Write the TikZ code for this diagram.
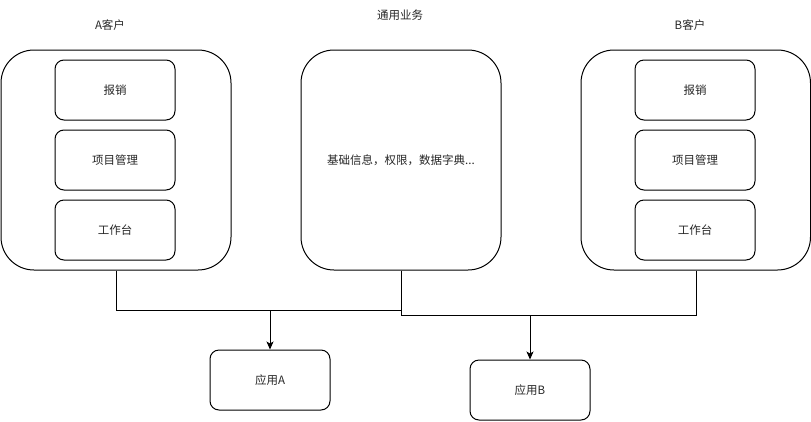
\documentclass[tikz,border=0pt]{standalone}
\usepackage{fontspec}
\setmainfont{Noto Sans CJK SC}
\usetikzlibrary{arrows.meta}
\begin{document}
\begin{tikzpicture}[x=1pt,y=-1pt,
  bigbox/.style={draw=black,line width=1pt,rounded corners=33pt,minimum height=220pt,inner sep=0pt},
  smallbox/.style={draw=black,line width=1pt,rounded corners=9pt,minimum width=120pt,minimum height=60pt,inner sep=0pt,font=\fontsize{11.5}{13}\selectfont,text=black!85},
  lbl/.style={font=\fontsize{11.5}{13}\selectfont,text=black!85},
  conn/.style={draw=black,line width=1pt},
  arr/.style={conn,-{Stealth[length=8pt,width=7pt,inset=2pt]}}]
\useasboundingbox (0,0) rectangle (811,421);
% containers
\node[bigbox,minimum width=230pt] (A) at (116,160) {};
\node[bigbox,minimum width=200pt,lbl] (G) at (401,160) {基础信息，权限，数据字典...};
\node[bigbox,minimum width=229.5pt] (B) at (695.75,160) {};
% titles
\node[lbl] (tA) at (110,25) {A客户};
\node[lbl] (tG) at (400,15) {通用业务};
\node[lbl] (tB) at (690,25) {B客户};
% inner boxes A
\node[smallbox] (a1) at (115,90) {报销};
\node[smallbox] (a2) at (115,160) {项目管理};
\node[smallbox] (a3) at (115,230) {工作台};
% inner boxes B
\node[smallbox] (b1) at (695,90) {报销};
\node[smallbox] (b2) at (695,160) {项目管理};
\node[smallbox] (b3) at (695,230) {工作台};
% apps
\node[smallbox] (appA) at (270,380) {应用A};
\node[smallbox] (appB) at (530,390) {应用B};
% connectors
\coordinate (jA) at (270,310);
\coordinate (jB) at (530,315);
\draw[arr] (A.south) |- (jA) -- (appA.north);
\draw[conn] (G.south) |- (jA);
\draw[arr] (G.south) |- (jB) -- (appB.north);
\draw[conn] (B.south -| 696,0) |- (jB);
\end{tikzpicture}
\end{document}
